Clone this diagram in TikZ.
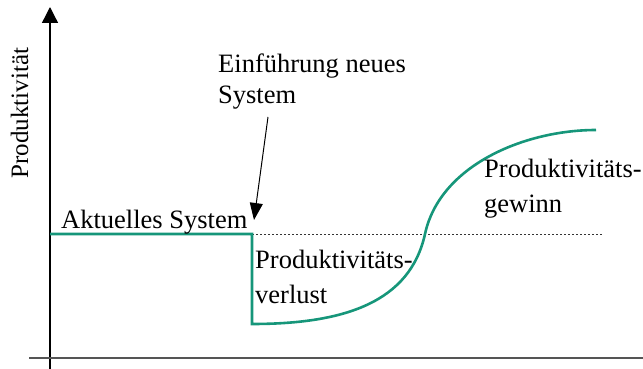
\documentclass[tikz,border=0pt]{standalone}
\usepackage{fontspec}
\setmainfont{Liberation Serif}
\usetikzlibrary{arrows.meta}
\definecolor{curvegreen}{RGB}{22,150,122}
\definecolor{axisgray}{RGB}{85,85,85}
\begin{document}
\begin{tikzpicture}[x=1pt,y=-1pt,
  lbl/.style={anchor=base west,inner sep=0pt,font=\fontsize{26.5}{30}\selectfont},
  axisline/.style={line width=1.3pt,black},
  prodcurve/.style={line width=2.6pt,curvegreen,line join=miter},
  refline/.style={line width=0.8pt,black!80,dash pattern=on 2pt off 2pt},
  pointer/.style={line width=1pt,black,-{Triangle[length=17pt,width=13pt]}}]
\useasboundingbox (0,0) rectangle (643,369);

% axes
\coordinate (ybot) at (50,369);
\coordinate (ytop) at (50,7);
\coordinate (xl) at (29,358);
\coordinate (xr) at (643,358);
\draw[axisline,-{Triangle[length=16pt,width=16pt]}] (ybot) -- (ytop);
\draw[line width=1.5pt,axisgray] (xl) -- (xr);
\node[rotate=90,anchor=base,inner sep=0pt,font=\fontsize{25}{30}\selectfont] (ylab) at (28,113) {Produktivität};

% reference level of the current system
\coordinate (step) at (252,234);
\coordinate (refend) at (603,234);
\draw[refline] (step) -- (refend);

% productivity curve
\coordinate (start) at (50,234);
\coordinate (low) at (252,324);
\coordinate (cross) at (425,234);
\coordinate (top) at (596,130);
\draw[prodcurve] (start) -- (step) -- (low)
  .. controls (345,324) and (410,302) .. (cross)
  .. controls (440,165) and (525,130) .. (top);

% labels
\node[lbl] (intro1) at (218,73) {Einführung neues};
\node[lbl] (intro2) at (218,103) {System};
\node[lbl] (current) at (61,228) {Aktuelles System};
\node[lbl] (loss1) at (255,268) {Produktivitäts-};
\node[lbl] (loss2) at (255,303) {verlust};
\node[lbl] (gain1) at (484,177) {Produktivitäts-};
\node[lbl] (gain2) at (484,212) {gewinn};

% pointer to the moment of introduction
\coordinate (ptrfrom) at (268,117);
\coordinate (ptrto) at (254,220);
\draw[pointer] (ptrfrom) -- (ptrto);
\end{tikzpicture}
\end{document}
